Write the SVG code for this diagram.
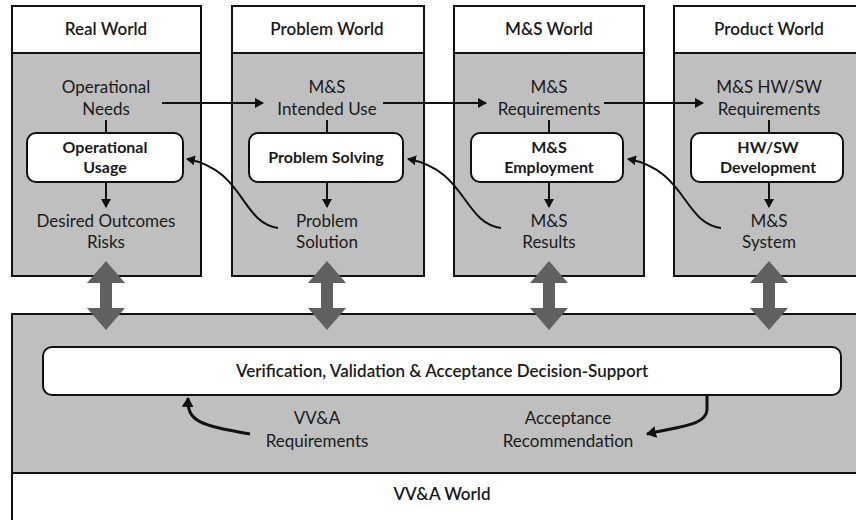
<svg xmlns="http://www.w3.org/2000/svg" width="856" height="520" viewBox="0 0 856 520">
<defs>
<style>
.col{fill:#bfbfbf;stroke:#111;stroke-width:2}
.hdr{fill:#fff;stroke:#111;stroke-width:2}
.inner{fill:#fff;stroke:#111;stroke-width:2}
text{font-family:Lato,"Noto Sans",sans-serif;fill:#1a1a1a;text-anchor:middle}
.t{font-size:17px}
.h{font-size:17px;font-weight:600}
.b{font-size:16px;font-weight:bold}
.ln{fill:none;stroke:#111;stroke-width:2}
.lt{fill:none;stroke:#111;stroke-width:3}
.big{fill:#606060}
</style>
<marker id="ah" markerWidth="10" markerHeight="10" refX="8" refY="5" orient="auto" markerUnits="userSpaceOnUse">
<path d="M0,0 L9,5 L0,10 Z" fill="#111"/>
</marker>
<marker id="ah2" markerWidth="12" markerHeight="12" refX="9" refY="6" orient="auto" markerUnits="userSpaceOnUse">
<path d="M0,0 L10,6 L0,12 Z" fill="#111"/>
</marker>
</defs>

<g id="vva-world">
<rect x="12" y="314" width="860" height="207" fill="#fff" stroke="#111" stroke-width="2"/>
<rect x="12" y="314" width="860" height="159" class="col"/>
<text class="h" x="442" y="500">VV&amp;A World</text>
</g>

<g id="vva-support">
<rect x="43" y="347" width="798" height="48" rx="9" class="inner"/>
<text class="t" x="442" y="377" style="font-weight:600">Verification, Validation &amp; Acceptance Decision-Support</text>
</g>
<g id="vva-req"><text class="t" x="317" y="424">VV&amp;A</text><text class="t" x="317" y="447">Requirements</text></g>
<g id="acc-rec"><text class="t" x="568" y="424">Acceptance</text><text class="t" x="568" y="447">Recommendation</text></g>

<g id="real-world">
<rect x="12" y="6" width="189" height="270" class="col"/>
<rect x="12" y="6" width="189" height="47" class="hdr"/>
<text class="h" x="106" y="35">Real World</text>
<text class="t" x="106" y="93">Operational</text><text class="t" x="106" y="115">Needs</text>
<rect x="27" y="133" width="156" height="49" rx="9" class="inner"/>
<text class="b" x="105" y="153">Operational</text><text class="b" x="105" y="173">Usage</text>
<text class="t" x="106" y="227">Desired Outcomes</text><text class="t" x="106" y="248">Risks</text>
</g>

<g id="problem-world">
<rect x="232" y="6" width="192" height="270" class="col"/>
<rect x="232" y="6" width="192" height="47" class="hdr"/>
<text class="h" x="327" y="35">Problem World</text>
<text class="t" x="327" y="93">M&amp;S</text><text class="t" x="327" y="115">Intended Use</text>
<rect x="249" y="133" width="154" height="49" rx="9" class="inner"/>
<text class="b" x="326" y="163">Problem Solving</text>
<text class="t" x="327" y="227">Problem</text><text class="t" x="327" y="248">Solution</text>
</g>

<g id="ms-world">
<rect x="454" y="6" width="190" height="270" class="col"/>
<rect x="454" y="6" width="190" height="47" class="hdr"/>
<text class="h" x="549" y="35">M&amp;S World</text>
<text class="t" x="549" y="93">M&amp;S</text><text class="t" x="549" y="115">Requirements</text>
<rect x="471" y="133" width="152" height="49" rx="9" class="inner"/>
<text class="b" x="549" y="153">M&amp;S</text><text class="b" x="549" y="173">Employment</text>
<text class="t" x="549" y="227">M&amp;S</text><text class="t" x="549" y="248">Results</text>
</g>

<g id="product-world">
<rect x="674" y="6" width="194" height="270" class="col"/>
<rect x="674" y="6" width="194" height="47" class="hdr"/>
<text class="h" x="769" y="35">Product World</text>
<text class="t" x="769" y="93">M&amp;S HW/SW</text><text class="t" x="769" y="115">Requirements</text>
<rect x="691" y="133" width="152" height="49" rx="9" class="inner"/>
<text class="b" x="768" y="153">HW/SW</text><text class="b" x="768" y="173">Development</text>
<text class="t" x="769" y="227">M&amp;S</text><text class="t" x="769" y="248">System</text>
</g>

<g id="connectors">
<line x1="106" y1="120" x2="106" y2="133" class="ln"/>
<line x1="106" y1="182" x2="106" y2="207" class="ln" marker-end="url(#ah)"/>
<line x1="327" y1="120" x2="327" y2="133" class="ln"/>
<line x1="327" y1="182" x2="327" y2="207" class="ln" marker-end="url(#ah)"/>
<line x1="549" y1="120" x2="549" y2="133" class="ln"/>
<line x1="549" y1="182" x2="549" y2="207" class="ln" marker-end="url(#ah)"/>
<line x1="769" y1="120" x2="769" y2="133" class="ln"/>
<line x1="769" y1="182" x2="769" y2="207" class="ln" marker-end="url(#ah)"/>
<line x1="162" y1="103" x2="263" y2="103" class="ln" marker-end="url(#ah)"/>
<line x1="383" y1="103" x2="486" y2="103" class="ln" marker-end="url(#ah)"/>
<line x1="604" y1="103" x2="703" y2="103" class="ln" marker-end="url(#ah)"/>
<path d="M278,228 C240,222 245,170 187,159" class="ln" marker-end="url(#ah)"/>
<path d="M501,228 C462,222 467,170 408,159" class="ln" marker-end="url(#ah)"/>
<path d="M721,228 C682,222 687,170 628,159" class="ln" marker-end="url(#ah)"/>
<path d="M250,434 C200,425 187,422 188,398" class="lt" marker-end="url(#ah2)"/>
<path d="M707,395 L707,410 C706,425 682,426 647,434" class="lt" marker-end="url(#ah2)"/>
<g class="big">
<path id="dbl" d="M106,261 L125,283 L112,283 L112,308 L125,308 L106,330 L87,308 L100,308 L100,283 L87,283 Z"/>
<use href="#dbl" x="221"/>
<use href="#dbl" x="443"/>
<use href="#dbl" x="663"/>
</g>
</g>
</svg>
